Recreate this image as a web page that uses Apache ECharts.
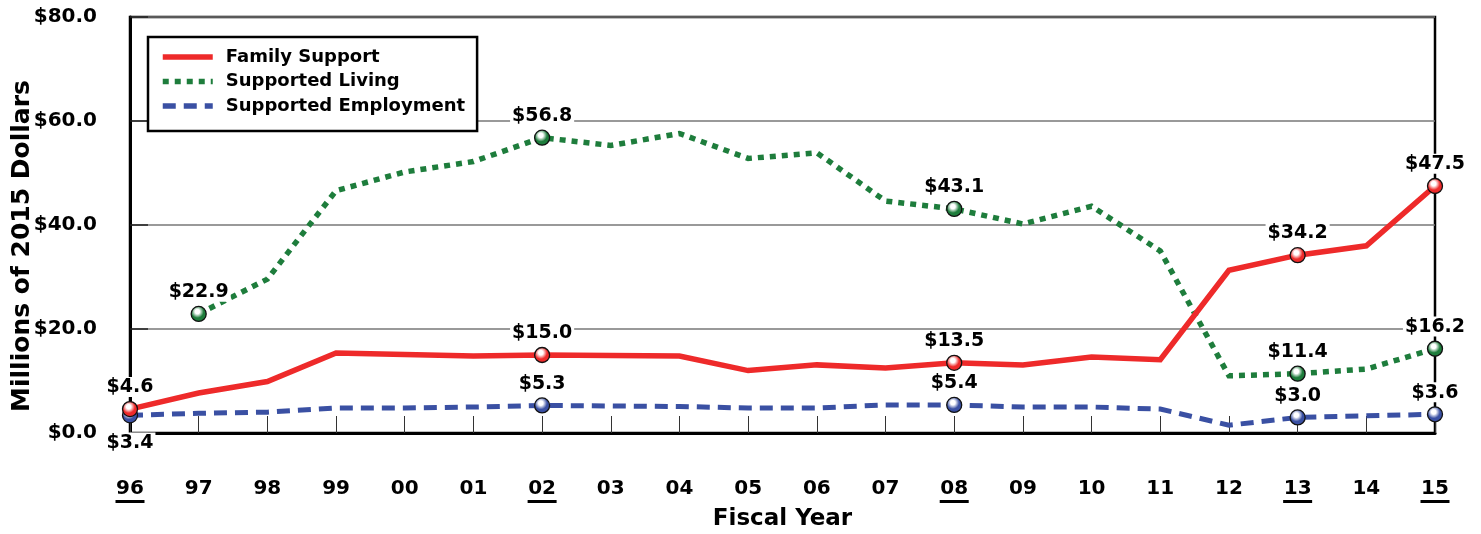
<!DOCTYPE html>
<html>
<head>
<meta charset="utf-8">
<script src="https://cdn.jsdelivr.net/npm/echarts@6/dist/echarts.min.js"></script>
<style>
html,body{margin:0;padding:0;background:#fff;}
#chart{width:1481px;height:534px;}
</style>
</head>
<body>
<div id="chart"></div>
<script>
// ---- data ----
const years = ['96','97','98','99','00','01','02','03','04','05','06','07','08','09','10','11','12','13','14','15'];
const familySupport = [4.6, 7.7, 9.9, 15.4, 15.1, 14.8, 15.0, 14.9, 14.8, 12.0, 13.1, 12.5, 13.5, 13.1, 14.6, 14.1, 31.3, 34.2, 36.0, 47.5];
const supportedLiving = [null, 22.9, 29.6, 46.6, 50.2, 52.2, 56.8, 55.3, 57.6, 52.8, 53.9, 44.6, 43.1, 40.2, 43.6, 35.0, 11.0, 11.4, 12.3, 16.2];
const supportedEmployment = [3.4, 3.8, 4.0, 4.8, 4.8, 5.0, 5.3, 5.2, 5.1, 4.8, 4.8, 5.4, 5.4, 5.0, 5.0, 4.6, 1.5, 3.0, 3.3, 3.6];
const yTicks = [0, 20, 40, 60, 80];
const labeledIdxFamily = [0, 6, 12, 17, 19];
const labeledIdxLiving = [1, 6, 12, 17, 19];
const labeledIdxEmployment = [0, 6, 12, 17, 19];
const underlinedYears = ['96', '02', '08', '13', '15'];
const seriesNames = ['Family Support', 'Supported Living', 'Supported Employment'];

// ---- styles ----
const FONT = 'DejaVu Sans';
const RED = '#EE2A2A', GREEN = '#1E7D3C', BLUE = '#3A50A3';

function sphere(c) {
  return {
    type: 'radial', x: 0.42, y: 0.36, r: 0.7,
    colorStops: [
      {offset: 0, color: '#ffffff'},
      {offset: 0.2, color: '#ffffff'},
      {offset: 0.55, color: c},
      {offset: 1, color: c}
    ]
  };
}

function pointSeries(name, arr, idx, color, belowIdx) {
  return {
    name: name + ' points',
    type: 'scatter',
    symbol: 'circle',
    symbolSize: 15,
    z: 5,
    itemStyle: {color: sphere(color), borderColor: '#111', borderWidth: 1.3, opacity: 1},
    label: {
      show: true,
      formatter: p => '$' + p.value[1].toFixed(1),
      fontFamily: FONT, fontWeight: 'bold', fontSize: 19, color: '#000',
      backgroundColor: '#fff', padding: [1, 2, 0, 2], distance: 3
    },
    emphasis: {disabled: true},
    data: idx.map(i => ({
      value: [i, arr[i]],
      label: {position: (belowIdx === i) ? 'bottom' : 'top',
               distance: (belowIdx === i) ? 9 : 4}
    }))
  };
}

function lineSeries(name, arr, color, type, width) {
  return {
    name: name,
    type: 'line',
    data: arr,
    symbol: 'none',
    connectNulls: false,
    z: 3,
    lineStyle: {color: color, width: width, type: type, cap: 'butt', join: 'miter'},
    itemStyle: {color: color},
    emphasis: {disabled: true}
  };
}

const chart = echarts.init(document.getElementById('chart'), null, {renderer: 'canvas'});
chart.setOption({
  animation: false,
  backgroundColor: '#fff',
  grid: {left: 130, right: 46, top: 17, bottom: 101, outerBoundsMode: 'none', containLabel: false,
         show: true, borderColor: '#000', borderWidth: 2.5, backgroundColor: 'transparent'},
  legend: {
    data: seriesNames,
    orient: 'vertical',
    left: 148, top: 37,
    itemWidth: 50, itemHeight: 10, itemGap: 4.5,
    padding: [10, 12, 15, 12],
    borderColor: '#000', borderWidth: 2.5,
    backgroundColor: '#fff',
    itemStyle: {opacity: 0, color: 'transparent', borderWidth: 0},
    lineStyle: {width: 5.5},
    textStyle: {fontFamily: FONT, fontWeight: 'bold', fontSize: 18, color: '#000', lineHeight: 20, padding: [0, 0, 0, 8]},
    selectedMode: false
  },
  xAxis: {
    type: 'category',
    data: years,
    boundaryGap: false,
    name: 'Fiscal Year',
    nameLocation: 'middle',
    nameGap: 75,
    nameMoveOverlap: false,
    nameTextStyle: {fontFamily: FONT, fontWeight: 'bold', fontSize: 23, color: '#000'},
    axisLine: {show: true, lineStyle: {color: '#000', width: 3}},
    axisTick: {show: true, inside: true, length: 17, interval: 0, lineStyle: {color: '#333', width: 1}},
    axisLabel: {
      interval: 0, margin: 45,
      formatter: v => underlinedYears.includes(v) ? '{t|' + v + '}\n{u|}' : '{t|' + v + '}\n{n|}',
      rich: {
        t: {fontFamily: FONT, fontWeight: 'bold', fontSize: 20, color: '#000', lineHeight: 22},
        u: {width: 29, height: 3, backgroundColor: '#000'},
        n: {width: 29, height: 3}
      }
    },
    splitLine: {show: false}
  },
  yAxis: {
    type: 'value',
    min: yTicks[0], max: yTicks[yTicks.length - 1], interval: 20,
    name: 'Millions of 2015 Dollars',
    nameLocation: 'middle',
    nameGap: 95,
    nameMoveOverlap: false,
    nameTextStyle: {fontFamily: FONT, fontWeight: 'bold', fontSize: 25, color: '#000', padding: [0, 42, 0, 0]},
    axisLine: {show: true, lineStyle: {color: '#000', width: 3}},
    axisTick: {show: true, inside: true, length: 18, lineStyle: {color: '#222', width: 1.5}},
    axisLabel: {
      margin: 33,
      formatter: v => '$' + v.toFixed(1),
      fontFamily: FONT, fontWeight: 'bold', fontSize: 20, color: '#000'
    },
    splitLine: {show: true, lineStyle: {color: '#777', width: 1.5}}
  },
  series: [
    lineSeries(seriesNames[2], supportedEmployment, BLUE, [13, 8], 5),
    lineSeries(seriesNames[1], supportedLiving, GREEN, [6, 6], 5.5),
    lineSeries(seriesNames[0], familySupport, RED, 'solid', 5.5),
    pointSeries(seriesNames[2], supportedEmployment, labeledIdxEmployment, BLUE, 0),
    pointSeries(seriesNames[1], supportedLiving, labeledIdxLiving, GREEN),
    pointSeries(seriesNames[0], familySupport, labeledIdxFamily, RED)
  ]
});
</script>
</body>
</html>
